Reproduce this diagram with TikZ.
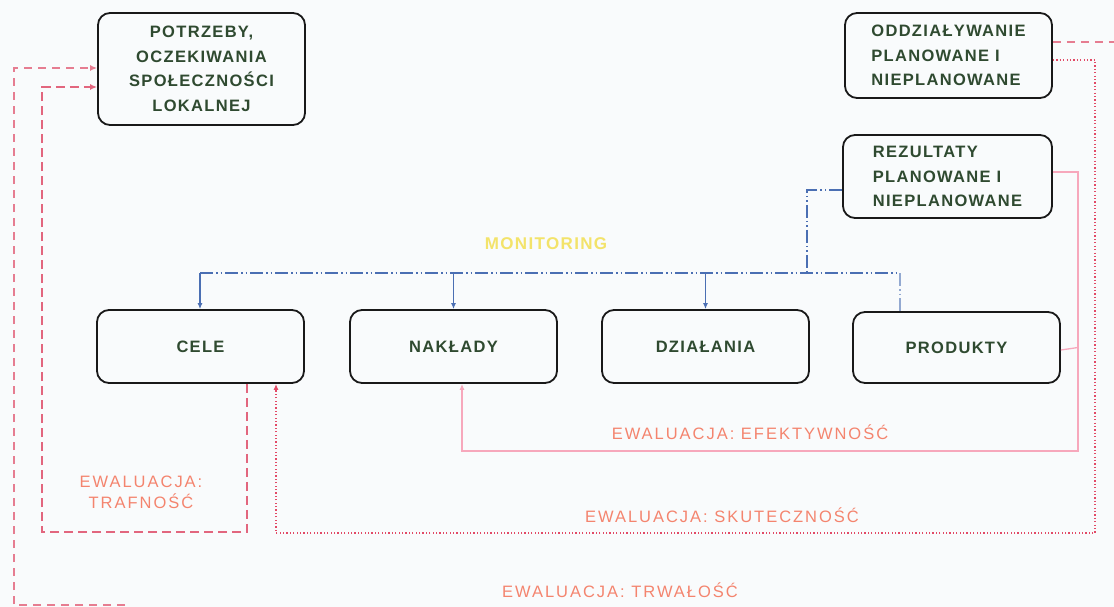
\documentclass[tikz,border=0pt]{standalone}
\usepackage{fontspec}
\setmainfont{Liberation Sans}
\newfontfamily\boxfont{Liberation Sans}[LetterSpace=8]
\newfontfamily\evfont{Liberation Sans}[LetterSpace=12]
\usetikzlibrary{arrows.meta}
\definecolor{elight}{HTML}{F9FBFC}
\definecolor{egreen}{HTML}{2F4A30}
\definecolor{epink}{HTML}{E2667E}
\definecolor{ered}{HTML}{E24A66}
\definecolor{esoft}{HTML}{F7A8BC}
\definecolor{esalmon}{HTML}{F4846E}
\definecolor{eblue}{HTML}{4B6FB3}
\definecolor{eyellow}{HTML}{F3E36A}

\begin{document}
\begin{tikzpicture}[x=1pt,y=-1pt,
  box/.style={draw=black!90,line width=1.8pt,rounded corners=12pt,
    minimum width=207pt,minimum height=73pt,text=egreen,
    font=\boxfont\bfseries\fontsize{16.5}{24.5}\selectfont},
  evlabel/.style={text=esalmon,align=center,font=\evfont\fontsize{16.5}{21}\selectfont},
  trafline/.style={epink,line width=1.5pt,dash pattern=on 9pt off 5pt},
  trwline/.style={epink!85,line width=1.5pt,dash pattern=on 8pt off 6pt},
  skutline/.style={ered,line width=1.2pt,dash pattern=on 1.2pt off 2.2pt},
  efline/.style={esoft,line width=1.3pt},
  monline/.style={eblue,line width=1.2pt,
    dash pattern=on 13pt off 3pt on 1.5pt off 3pt on 1.5pt off 3pt},
  mondrop/.style={eblue,line width=1.1pt,-{Latex[length=6pt,width=5pt]}}]
  \fill[elight] (0,0) rectangle (1114,607);
  \useasboundingbox (0,0) rectangle (1114,607);

  % boxes
  \node[box,minimum height=112pt,align=center] (potrzeby) at (201.5,69)
    {POTRZEBY,\\OCZEKIWANIA\\SPOŁECZNOŚCI\\LOKALNEJ};
  \node[box,minimum height=85pt,align=left] (oddz) at (948.5,55.5)
    {ODDZIAŁYWANIE\\PLANOWANE I\\NIEPLANOWANE};
  \node[box,minimum width=209pt,minimum height=83pt,align=left] (rez) at (947.5,176.5)
    {REZULTATY\\PLANOWANE I\\NIEPLANOWANE};
  \node[box] (cele) at (200.5,346.5) {CELE};
  \node[box] (naklady) at (453.5,346.5) {NAKŁADY};
  \node[box] (dzialania) at (705.5,346.5) {DZIAŁANIA};
  \node[box,minimum height=71pt] (produkty) at (956.5,347.5) {PRODUKTY};

  % monitoring
  \node[text=eyellow,font=\boxfont\bfseries\fontsize{17}{18}\selectfont] (monitoring) at (546,244) {MONITORING};
  \coordinate (monL) at (200,273);
  \coordinate (monR) at (900,273);
  \coordinate (monJ) at (807,273);
  \draw[monline] ([yshift=-13.5pt]rez.west) -| (monJ);
  \draw[monline] (monL) -- (monR);
  \draw[mondrop] (monL) -- (monL |- cele.north);
  \draw[mondrop] (monL -| naklady.north) -- (naklady.north);
  \draw[mondrop] (monL -| dzialania.north) -- (dzialania.north);
  \draw[monline,eblue!60] (monR) -- (monR |- produkty.north);

  % ewaluacja: trafnosc
  \coordinate (trafB) at (42,532);
  \draw[trafline,-{Latex[length=7pt,width=6pt]}] ([xshift=46.5pt]cele.south) |- (trafB)
    |- ([yshift=-18pt]potrzeby.west);
  \node[evlabel] (trafnosc) at (141,492) {EWALUACJA:\\TRAFNOŚĆ};

  % ewaluacja: efektywnosc
  \coordinate (efB) at (1078,451);
  \draw[efline,-{Latex[length=6pt,width=5pt]}] ([yshift=4.5pt]rez.east) -| (efB)
    -| ([xshift=8.5pt]naklady.south);
  \draw[efline] ([yshift=-2.5pt]produkty.east) -- (produkty.east -| efB);
  \node[evlabel] (efektywnosc) at (750,432) {EWALUACJA: EFEKTYWNOŚĆ};

  % ewaluacja: skutecznosc
  \coordinate (skutB) at (1095,533);
  \draw[skutline,-{Latex[length=6pt,width=5pt]}] ([yshift=-4.5pt]oddz.east) -| (skutB)
    -| ([xshift=75.5pt]cele.south);
  \node[evlabel] (skutecznosc) at (722,515) {EWALUACJA: SKUTECZNOŚĆ};

  % ewaluacja: trwalosc
  \coordinate (trwR) at (1114,42);
  \coordinate (trwB) at (125,605);
  \draw[trwline] ([yshift=13.5pt]oddz.east) -- (trwR);
  \draw[trwline,-{Latex[length=7pt,width=6pt]}] (trwB) -- (14,605)
    |- ([yshift=1pt]potrzeby.west);
  \node[evlabel] (trwalosc) at (620,590) {EWALUACJA: TRWAŁOŚĆ};
\end{tikzpicture}
\end{document}
